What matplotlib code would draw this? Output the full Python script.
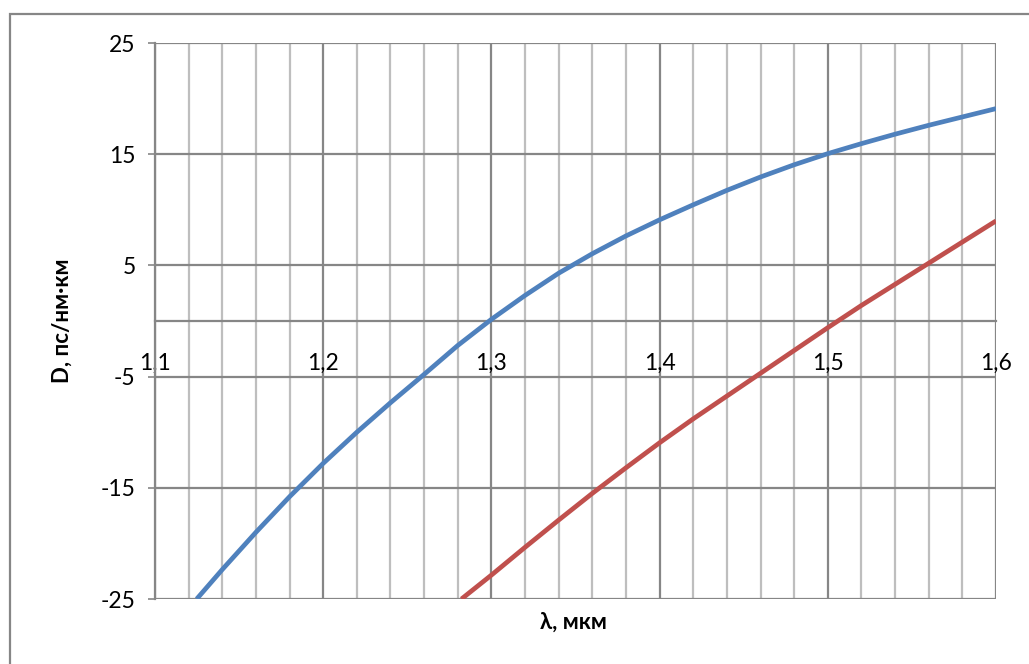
import matplotlib
matplotlib.use("Agg")
import matplotlib.pyplot as plt
from matplotlib.patches import Rectangle
from matplotlib.ticker import MultipleLocator, FixedLocator, FuncFormatter

# ---- data ----
blue_x = [1.1248, 1.14, 1.16, 1.18, 1.20, 1.22, 1.24, 1.26, 1.28, 1.30,
          1.32, 1.34, 1.36, 1.38, 1.40, 1.42, 1.44, 1.46, 1.48, 1.50,
          1.52, 1.54, 1.56, 1.58, 1.60]
blue_y = [-25.0, -22.35, -19.0, -15.8, -12.8, -10.0, -7.35, -4.8, -2.2, 0.15,
          2.3, 4.3, 6.05, 7.65, 9.1, 10.45, 11.75, 12.95, 14.05, 15.05,
          15.95, 16.8, 17.6, 18.35, 19.1]

red_x = [1.2822, 1.30, 1.32, 1.34, 1.36, 1.38, 1.40, 1.42, 1.44, 1.46,
         1.48, 1.50, 1.52, 1.54, 1.56, 1.58, 1.60]
red_y = [-25.0, -22.85, -20.35, -17.9, -15.5, -13.2, -10.95, -8.8, -6.75, -4.7,
         -2.65, -0.6, 1.4, 3.3, 5.2, 7.1, 9.0]

x_ticks = [1.1, 1.2, 1.3, 1.4, 1.5, 1.6]
y_ticks = [-25, -15, -5, 5, 15, 25]
x_label = "λ, мкм"
y_label = "D, пс/нм·км"

# ---- style ----
FONT = ["Lato", "Noto Sans", "DejaVu Sans"]
plt.rcParams["font.family"] = FONT
plt.rcParams["axes.unicode_minus"] = False
major_c = "#868686"
minor_c = "#BEBEBE"

fig = plt.figure(figsize=(10.29, 6.64), dpi=100)
ax = fig.add_axes([155/1029, 1-599/664, 841/1029, 556/664])

ax.set_xlim(1.1, 1.6)
ax.set_ylim(-25, 25)

# grid
ax.xaxis.set_major_locator(FixedLocator(x_ticks))
ax.xaxis.set_minor_locator(MultipleLocator(0.02))
ax.yaxis.set_major_locator(FixedLocator(y_ticks))
ax.grid(which="minor", axis="x", color=minor_c, lw=1.6, zorder=0)
ax.grid(which="major", axis="x", color=major_c, lw=1.6, zorder=0)
ax.grid(which="major", axis="y", color=major_c, lw=1.6, zorder=0)
ax.set_axisbelow(True)

ax.plot(blue_x, blue_y, color="#4F81BD", lw=3.4, solid_capstyle="butt",
        solid_joinstyle="round", zorder=3)
ax.plot(red_x, red_y, color="#C0504D", lw=3.4, solid_capstyle="butt",
        solid_joinstyle="round", zorder=3)

# spines
for s in ["top", "right"]:
    ax.spines[s].set_visible(False)
ax.spines["left"].set_color(major_c)
ax.spines["left"].set_linewidth(1.6)
ax.spines["bottom"].set_position(("data", 0))
ax.spines["bottom"].set_color(major_c)
ax.spines["bottom"].set_linewidth(1.6)

ax.xaxis.set_major_formatter(FuncFormatter(lambda v, p: f"{v:.1f}".replace(".", ",")))
ax.tick_params(axis="x", which="both", length=0, pad=23, labelsize=16.5, labelcolor="black")
ax.tick_params(axis="y", which="major", length=5, width=1.2, color=major_c,
               pad=9, labelsize=16.5, labelcolor="black", direction="out")

ax.set_xlabel(x_label, fontsize=16, fontweight="bold", family=FONT)
ax.set_ylabel(y_label, fontsize=16, fontweight="bold", family=FONT)
ax.xaxis.set_label_coords((573-155)/841, -(622-599)/556)
ax.yaxis.set_label_coords(-(155-62)/841, 0.5)
ax.xaxis.label.set_va("center")
ax.yaxis.label.set_va("center")

# chart-area border
fig.patches.append(Rectangle((10/1029, -0.2), 1.2, 1-14/664+0.2,
                             transform=fig.transFigure, fill=False,
                             edgecolor=major_c, lw=1.6))

fig.savefig("out.png", dpi=100)
